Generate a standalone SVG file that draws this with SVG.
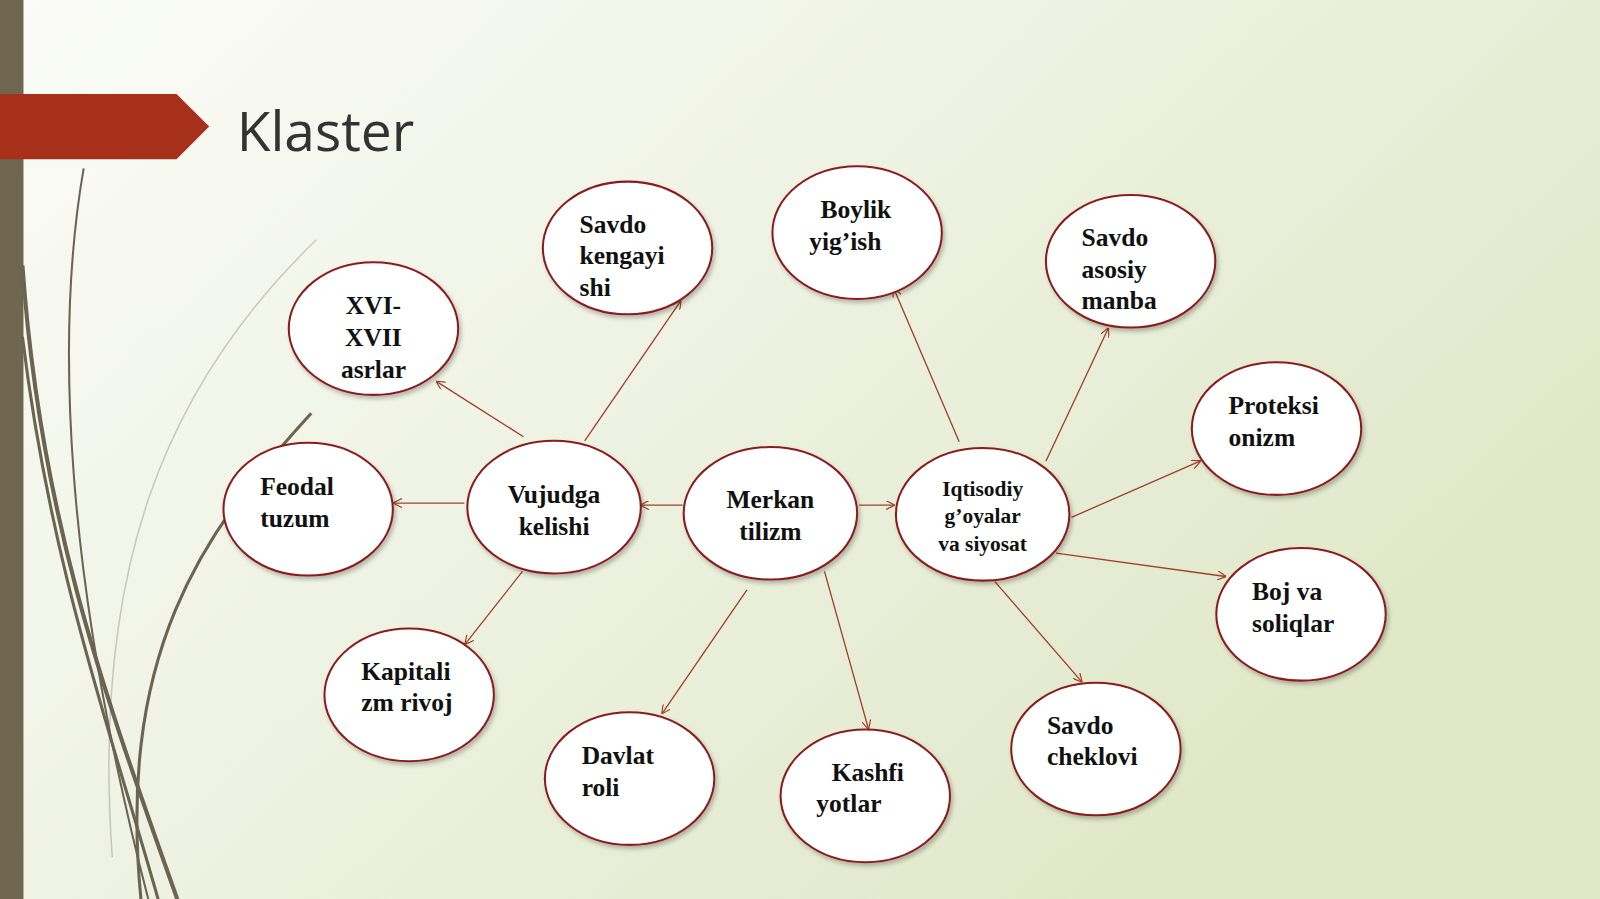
<svg xmlns="http://www.w3.org/2000/svg" width="1600" height="899" viewBox="0 0 1600 899">
<defs>
<linearGradient id="bg" x1="0" y1="0" x2="1" y2="0.6">
<stop offset="0" stop-color="#fbfcf8"/><stop offset="0.5" stop-color="#eef2e2"/><stop offset="1" stop-color="#dfe7c6"/>
</linearGradient>
<marker id="ar" viewBox="0 0 10 10" refX="9" refY="5" markerWidth="9" markerHeight="9" orient="auto" markerUnits="userSpaceOnUse">
<path d="M0,0 L10,5 L0,10" fill="none" stroke="#a0402a" stroke-width="1.3"/>
</marker>
<filter id="sh" x="-20%" y="-20%" width="140%" height="140%"><feDropShadow dx="2" dy="3" stdDeviation="2" flood-opacity="0.25"/></filter>
</defs>
<style>
.n ellipse{fill:#fff;stroke:#8b1e1e;stroke-width:2;filter:url(#sh)}
.n text{font-family:"Liberation Serif",serif;font-weight:bold;font-size:25px;fill:#111}
.c line{stroke:#a0402a;stroke-width:1.3;marker-end:url(#ar)}
.deco path{fill:none;stroke:#6b6450}
</style>
<rect width="1600" height="899" fill="url(#bg)"/>
<g transform="scale(1.0204)">
<rect x="0" y="0" width="23" height="890" fill="#6f6650"/>
<g class="deco">
<path d="M22,260 C40,520 110,700 180,899" stroke-width="4"/>
<path d="M22,330 C50,560 110,720 160,899" stroke-width="3"/>
<path d="M82,165 C55,320 60,560 150,899" stroke-width="2"/>
<path d="M305,405 C200,520 110,640 140,899" stroke-width="3"/>
<path d="M310,235 C160,380 90,560 110,840" stroke-width="1.5" stroke-opacity="0.3"/>
</g>
<path d="M0,92 L173,92 L205,124 L173,156 L0,156 Z" fill="#a6301a"/>
<text x="232" y="148" font-family="Open Sans,sans-serif" font-size="54" fill="#333">Klaster</text>
<g class="c">
<line x1="513" y1="428" x2="428" y2="374"/>
<line x1="573" y1="432" x2="667" y2="295"/>
<line x1="455" y1="493" x2="386" y2="493"/>
<line x1="512" y1="560" x2="456" y2="631"/>
<line x1="669" y1="495" x2="628" y2="495"/>
<line x1="842" y1="495" x2="876" y2="495"/>
<line x1="732" y1="578" x2="649" y2="699"/>
<line x1="808" y1="560" x2="851" y2="714"/>
<line x1="940" y1="433" x2="876" y2="283"/>
<line x1="1025" y1="452" x2="1086" y2="322"/>
<line x1="1050" y1="507" x2="1176" y2="452"/>
<line x1="1035" y1="542" x2="1201" y2="565"/>
<line x1="975" y1="570" x2="1060" y2="668"/>
</g>
<g id="n1" class="n"><ellipse cx="366" cy="322" rx="83" ry="65"/><text x="366" y="308" text-anchor="middle">XVI-</text><text x="366" y="339" text-anchor="middle">XVII</text><text x="366" y="370" text-anchor="middle">asrlar</text></g>
<g id="n2" class="n"><ellipse cx="615" cy="243" rx="83" ry="65"/><text x="568" y="228">Savdo</text><text x="568" y="259">kengayi</text><text x="568" y="290">shi</text></g>
<g id="n3" class="n"><ellipse cx="840" cy="228" rx="83" ry="65"/><text x="804" y="214">Boylik</text><text x="793" y="245">yig’ish</text></g>
<g id="n4" class="n"><ellipse cx="1108" cy="256" rx="83" ry="65"/><text x="1060" y="241">Savdo</text><text x="1060" y="272">asosiy</text><text x="1060" y="303">manba</text></g>
<g id="n5" class="n"><ellipse cx="1251" cy="420" rx="83" ry="65"/><text x="1204" y="406">Proteksi</text><text x="1204" y="437">onizm</text></g>
<g id="n6" class="n"><ellipse cx="302" cy="499" rx="83" ry="65"/><text x="255" y="485">Feodal</text><text x="255" y="516">tuzum</text></g>
<g id="n7" class="n"><ellipse cx="543" cy="497" rx="85" ry="65"/><text x="543" y="493" text-anchor="middle">Vujudga</text><text x="543" y="524" text-anchor="middle">kelishi</text></g>
<g id="n8" class="n"><ellipse cx="755" cy="503" rx="85" ry="65"/><text x="755" y="498" text-anchor="middle">Merkan</text><text x="755" y="529" text-anchor="middle">tilizm</text></g>
<g id="n9" class="n"><ellipse cx="963" cy="504" rx="85" ry="65"/><text x="963" y="486" text-anchor="middle" style="font-size:21px">Iqtisodiy</text><text x="963" y="513" text-anchor="middle" style="font-size:21px">g’oyalar</text><text x="963" y="540" text-anchor="middle" style="font-size:21px">va siyosat</text></g>
<g id="n10" class="n"><ellipse cx="1275" cy="602" rx="83" ry="65"/><text x="1227" y="588">Boj va</text><text x="1227" y="619">soliqlar</text></g>
<g id="n11" class="n"><ellipse cx="401" cy="681" rx="83" ry="65"/><text x="354" y="666">Kapitali</text><text x="354" y="697">zm rivoj</text></g>
<g id="n12" class="n"><ellipse cx="617" cy="763" rx="83" ry="65"/><text x="570" y="749">Davlat</text><text x="570" y="780">roli</text></g>
<g id="n13" class="n"><ellipse cx="848" cy="780" rx="83" ry="65"/><text x="815" y="765">Kashfi</text><text x="800" y="796">yotlar</text></g>
<g id="n14" class="n"><ellipse cx="1074" cy="734" rx="83" ry="65"/><text x="1026" y="719">Savdo</text><text x="1026" y="750">cheklovi</text></g>
</g>
</svg>
